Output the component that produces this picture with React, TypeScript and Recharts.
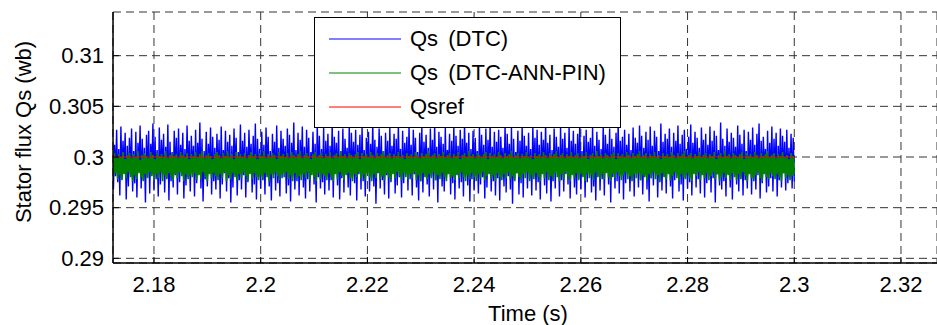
import React from 'react';
import { LineChart, Line, XAxis, YAxis, CartesianGrid, Legend } from 'recharts';

const FONT = '"Liberation Sans", Arial, Helvetica, sans-serif';

const T_START = 2.1722;
const T_STEP = 0.0002;

const xTicks = [2.18, 2.2, 2.22, 2.24, 2.26, 2.28, 2.3, 2.32];
const yTicks = [0.29, 0.295, 0.3, 0.305, 0.31];
const xDomain = [2.17232, 2.32675];
const yDomain = [0.28954, 0.31431];

const seriesNames = ['Qs (DTC)', 'Qs (DTC-ANN-PIN)', 'Qsref'];
const seriesColors = ['#0000ff', '#008000', '#ff0000'];

const QSREF = 0.3;

const qsDTC = [
  0.3021,0.2968,0.3012,0.2981,0.3027,0.2975,0.3008,0.2962,0.3030,0.2979,0.3016,0.2986,0.3024,0.2958,0.3011,0.2971,0.3019,0.2983,0.3028,0.2966,
  0.3006,0.2974,0.3025,0.2960,0.3014,0.2987,0.3031,0.2969,0.3018,0.2977,0.3009,0.2955,0.3022,0.2980,0.3026,0.2964,0.3013,0.2988,0.3033,0.2967,
  0.3020,0.2978,0.3007,0.2961,0.3029,0.2973,0.3017,0.2984,0.3023,0.2965,0.3010,0.2979,0.3032,0.2957,0.3015,0.2976,0.3005,0.2970,0.3026,0.2982,
  0.3019,0.2963,0.3028,0.2975,0.3012,0.2986,0.3024,0.2959,0.3008,0.2972,0.3031,0.2980,0.3016,0.2966,0.3021,0.2985,0.3011,0.2961,0.3027,0.2974,
  0.3014,0.2983,0.3034,0.2969,0.3018,0.2956,0.3006,0.2978,0.3025,0.2971,0.3013,0.2987,0.3029,0.2963,0.3020,0.2976,0.3009,0.2968,0.3023,0.2981,
  0.3017,0.2959,0.3030,0.2973,0.3007,0.2984,0.3026,0.2966,0.3015,0.2979,0.3022,0.2955,0.3011,0.2970,0.3028,0.2986,0.3019,0.2962,0.3005,0.2977,
  0.3032,0.2968,0.3016,0.2982,0.3024,0.2960,0.3010,0.2975,0.3027,0.2988,0.3013,0.2965,0.3021,0.2973,0.3033,0.2958,0.3018,0.2980,0.3008,0.2969,
  0.3025,0.2977,0.3012,0.2963,0.3029,0.2985,0.3020,0.2971,0.3006,0.2957,0.3023,0.2983,0.3015,0.2967,0.3031,0.2974,0.3009,0.2961,0.3026,0.2979,
  0.3018,0.2986,0.3011,0.2964,0.3028,0.2972,0.3022,0.2956,0.3014,0.2981,0.3034,0.2968,0.3007,0.2976,0.3024,0.2962,0.3017,0.2984,0.3030,0.2970,
  0.3010,0.2959,0.3027,0.2978,0.3019,0.2966,0.3005,0.2987,0.3025,0.2973,0.3013,0.2955,0.3032,0.2980,0.3021,0.2969,0.3008,0.2975,0.3029,0.2963,
  0.3016,0.2982,0.3023,0.2967,0.3011,0.2977,0.3033,0.2960,0.3020,0.2985,0.3014,0.2972,0.3026,0.2958,0.3006,0.2979,0.3028,0.2965,0.3018,0.2988,
  0.3009,0.2970,0.3031,0.2962,0.3024,0.2981,0.3015,0.2974,0.3027,0.2957,0.3012,0.2983,0.3022,0.2968,0.3030,0.2976,0.3007,0.2961,0.3019,0.2986,
  0.3025,0.2966,0.3013,0.2979,0.3034,0.2971,0.3017,0.2954,0.3010,0.2984,0.3028,0.2969,0.3021,0.2977,0.3006,0.2963,0.3024,0.2982,0.3016,0.2959,
  0.3029,0.2975,0.3011,0.2987,0.3023,0.2964,0.3018,0.2972,0.3032,0.2980,0.3008,0.2960,0.3026,0.2974,0.3014,0.2985,0.3020,0.2967,0.3031,0.2978,
  0.3012,0.2962,0.3027,0.2983,0.3019,0.2970,0.3005,0.2957,0.3024,0.2976,0.3030,0.2965,0.3015,0.2986,0.3022,0.2973,0.3009,0.2961,0.3028,0.2981,
  0.3017,0.2968,0.3033,0.2977,0.3010,0.2955,0.3025,0.2984,0.3020,0.2971,0.3013,0.2966,0.3029,0.2979,0.3007,0.2988,0.3023,0.2963,0.3016,0.2974,
  0.3031,0.2958,0.3021,0.2982,0.3011,0.2969,0.3027,0.2975,0.3018,0.2961,0.3034,0.2985,0.3014,0.2972,0.3024,0.2956,0.3008,0.2978,0.3026,0.2967,
  0.3019,0.2986,0.3006,0.2964,0.3030,0.2973,0.3022,0.2980,0.3012,0.2959,0.3028,0.2970,0.3017,0.2983,0.3033,0.2966,0.3010,0.2976,0.3025,0.2962,
  0.3015,0.2979,0.3027,0.2957,0.3020,0.2987,0.3009,0.2971,0.3032,0.2965,0.3023,0.2981,0.3013,0.2968,0.3029,0.2954,0.3018,0.2977,0.3005,0.2984,
  0.3026,0.2963,0.3016,0.2974,0.3031,0.2960,0.3021,0.2986,0.3011,0.2969,0.3024,0.2978,0.3008,0.2962,0.3030,0.2982,0.3019,0.2967,0.3027,0.2975,
  0.3012,0.2958,0.3025,0.2985,0.3017,0.2972,0.3034,0.2964,0.3014,0.2980,0.3022,0.2956,0.3007,0.2976,0.3028,0.2969,0.3020,0.2987,0.3010,0.2961,
  0.3029,0.2977,0.3018,0.2966,0.3024,0.2983,0.3009,0.2973,0.3031,0.2959,0.3016,0.2984,0.3026,0.2970,0.3013,0.2963,0.3023,0.2979,0.3033,0.2968,
  0.3006,0.2982,0.3021,0.2960,0.3027,0.2975,0.3015,0.2988,0.3019,0.2965,0.3030,0.2971,0.3011,0.2957,0.3025,0.2981,0.3017,0.2967,0.3008,0.2978,
  0.3032,0.2962,0.3022,0.2986,0.3013,0.2973,0.3028,0.2955,0.3018,0.2980,0.3010,0.2969,0.3024,0.2976,0.3034,0.2964,0.3016,0.2983,0.3020,0.2958,
  0.3027,0.2974,0.3012,0.2985,0.3023,0.2966,0.3007,0.2978,0.3029,0.2961,0.3019,0.2987,0.3014,0.2970,0.3031,0.2977,0.3021,0.2963,0.3009,0.2982,
  0.3025,0.2968,0.3017,0.2956,0.3030,0.2979,0.3011,0.2972,0.3026,0.2984,0.3020,0.2960,0.3006,0.2975,0.3033,0.2967,0.3015,0.2981,0.3023,0.2964,
  0.3018,0.2986,0.3028,0.2971,0.3010,0.2959,0.3024,0.2977,0.3016,0.2983,0.3031,0.2966,0.3013,0.2973,0.3022,0.2957,0.3027,0.2980,0.3008,0.2969,
  0.3020,0.2975,0.3032,0.2962,0.3014,0.2985,0.3025,0.2970,0.3019,0.2978,0.3009,0.2964,0.3029,0.2987,0.3017,0.2960,0.3023,0.2974,0.3012,0.2981,
  0.3030,0.2965,0.3016,0.2979,0.3026,0.2955,0.3021,0.2983,0.3007,0.2972,0.3034,0.2968,0.3018,0.2976,0.3011,0.2961,0.3028,0.2984,0.3015,0.2970,
  0.3024,0.2958,0.3019,0.2986,0.3010,0.2973,0.3031,0.2966,0.3022,0.2980,0.3013,0.2962,0.3027,0.2977,0.3006,0.2969,0.3025,0.2985,0.3017,0.2963,
  0.3029,0.2976,0.3012,0.2968,0.3023,0.2982,0.3033,0.2959,0.3016,0.2974,0.3020,0.2987,0.3008,0.2965,0.3026,0.2971,0.3014,0.2979,0.3030,0.2966,
  0.3018,0.2983,0.3024,0.2961,0.3011,0.2977,0.3028,0.2970,0.3021,0.2984,0.3015,0.2967,0.3027,0.2974,0.3009,0.2980,0.3023,0.2969,0.3019,0.2976,
];

const qsANN = [
  0.3001,0.2981,0.3004,0.2984,0.2999,0.2978,0.3003,0.2982,0.3000,0.2977,0.3005,0.2983,0.2998,0.2979,0.3002,0.2985,0.3004,0.2980,0.2999,0.2976,
  0.3003,0.2982,0.3000,0.2978,0.3006,0.2984,0.2997,0.2980,0.3002,0.2976,0.3004,0.2983,0.3001,0.2979,0.2999,0.2985,0.3005,0.2981,0.3002,0.2977,
  0.2998,0.2983,0.3004,0.2979,0.3001,0.2985,0.3003,0.2976,0.3000,0.2982,0.3006,0.2978,0.2999,0.2984,0.3002,0.2980,0.3004,0.2977,0.3001,0.2983,
  0.3003,0.2979,0.2999,0.2985,0.3005,0.2981,0.3002,0.2976,0.3000,0.2983,0.3004,0.2978,0.2998,0.2982,0.3003,0.2980,0.3001,0.2984,0.3005,0.2977,
  0.3000,0.2982,0.3003,0.2978,0.3006,0.2985,0.2999,0.2980,0.3002,0.2976,0.3004,0.2983,0.3001,0.2979,0.2998,0.2984,0.3003,0.2981,0.3005,0.2977,
  0.3002,0.2983,0.2999,0.2979,0.3004,0.2985,0.3001,0.2976,0.3006,0.2982,0.3000,0.2978,0.3003,0.2984,0.2998,0.2980,0.3005,0.2977,0.3001,0.2983,
  0.3003,0.2979,0.3000,0.2985,0.3004,0.2981,0.2999,0.2976,0.3002,0.2983,0.3005,0.2978,0.3001,0.2984,0.3003,0.2980,0.2998,0.2977,0.3004,0.2982,
  0.3001,0.2978,0.3006,0.2984,0.2999,0.2980,0.3003,0.2976,0.3000,0.2983,0.3004,0.2979,0.3002,0.2985,0.2998,0.2981,0.3005,0.2977,0.3001,0.2983,
  0.3003,0.2980,0.3000,0.2985,0.3004,0.2978,0.2999,0.2982,0.3005,0.2976,0.3002,0.2984,0.3000,0.2979,0.3003,0.2981,0.3006,0.2977,0.2999,0.2983,
  0.3002,0.2979,0.3004,0.2985,0.3001,0.2977,0.2998,0.2982,0.3003,0.2980,0.3005,0.2976,0.3000,0.2984,0.3002,0.2978,0.3004,0.2983,0.2999,0.2981,
  0.3003,0.2977,0.3001,0.2984,0.3005,0.2980,0.2999,0.2976,0.3002,0.2983,0.3004,0.2978,0.3000,0.2985,0.3006,0.2981,0.3001,0.2977,0.3003,0.2982,
  0.2999,0.2984,0.3004,0.2979,0.3002,0.2976,0.3000,0.2983,0.3003,0.2980,0.3005,0.2985,0.2998,0.2978,0.3004,0.2982,0.3001,0.2977,0.3003,0.2984,
  0.3000,0.2980,0.3005,0.2976,0.3002,0.2983,0.2999,0.2979,0.3004,0.2985,0.3001,0.2978,0.3003,0.2981,0.3006,0.2977,0.3000,0.2984,0.3002,0.2980,
  0.3004,0.2976,0.2999,0.2983,0.3003,0.2979,0.3001,0.2985,0.3005,0.2981,0.3000,0.2977,0.3002,0.2984,0.2998,0.2980,0.3004,0.2978,0.3001,0.2983,
  0.3003,0.2979,0.3000,0.2985,0.3005,0.2977,0.3002,0.2982,0.2999,0.2976,0.3004,0.2984,0.3001,0.2980,0.3003,0.2978,0.3006,0.2983,0.3000,0.2979,
  0.3002,0.2985,0.3004,0.2977,0.2999,0.2982,0.3003,0.2978,0.3001,0.2984,0.3005,0.2980,0.3000,0.2976,0.3002,0.2983,0.3004,0.2979,0.2999,0.2981,
  0.3003,0.2977,0.3001,0.2983,0.3005,0.2979,0.2998,0.2985,0.3002,0.2980,0.3004,0.2976,0.3000,0.2982,0.3006,0.2978,0.3001,0.2984,0.3003,0.2980,
  0.2999,0.2976,0.3004,0.2983,0.3002,0.2979,0.3000,0.2985,0.3003,0.2977,0.3005,0.2981,0.2998,0.2984,0.3004,0.2978,0.3001,0.2982,0.3003,0.2976,
  0.3000,0.2984,0.3005,0.2980,0.3002,0.2977,0.2999,0.2983,0.3004,0.2979,0.3001,0.2985,0.3003,0.2978,0.3006,0.2981,0.3000,0.2976,0.3002,0.2984,
  0.3004,0.2980,0.2999,0.2977,0.3003,0.2983,0.3001,0.2979,0.3005,0.2985,0.3000,0.2976,0.3002,0.2982,0.2998,0.2978,0.3004,0.2984,0.3001,0.2980,
  0.3003,0.2976,0.3000,0.2983,0.3005,0.2979,0.3002,0.2985,0.2999,0.2977,0.3004,0.2981,0.3001,0.2978,0.3003,0.2984,0.3006,0.2980,0.3000,0.2976,
  0.3002,0.2983,0.3004,0.2978,0.2999,0.2985,0.3003,0.2980,0.3001,0.2976,0.3005,0.2982,0.3000,0.2979,0.3002,0.2984,0.3004,0.2977,0.2999,0.2983,
  0.3003,0.2980,0.3001,0.2976,0.3005,0.2984,0.2998,0.2979,0.3002,0.2982,0.3004,0.2977,0.3000,0.2985,0.3006,0.2980,0.3001,0.2978,0.3003,0.2983,
  0.2999,0.2978,0.3004,0.2984,0.3002,0.2980,0.3000,0.2976,0.3003,0.2983,0.3005,0.2979,0.2998,0.2985,0.3004,0.2981,0.3001,0.2977,0.3003,0.2982,
  0.3000,0.2985,0.3005,0.2978,0.3002,0.2981,0.2999,0.2976,0.3004,0.2983,0.3001,0.2979,0.3003,0.2984,0.3006,0.2977,0.3000,0.2982,0.3002,0.2980,
  0.3004,0.2977,0.2999,0.2983,0.3003,0.2979,0.3001,0.2985,0.3005,0.2978,0.3000,0.2982,0.3002,0.2976,0.2998,0.2984,0.3004,0.2980,0.3001,0.2978,
  0.3003,0.2983,0.3000,0.2977,0.3005,0.2981,0.3002,0.2985,0.2999,0.2979,0.3004,0.2976,0.3001,0.2983,0.3003,0.2980,0.3006,0.2978,0.3000,0.2984,
  0.3002,0.2979,0.3004,0.2976,0.2999,0.2983,0.3003,0.2981,0.3001,0.2985,0.3005,0.2977,0.3000,0.2982,0.3002,0.2979,0.3004,0.2984,0.2999,0.2977,
  0.3003,0.2981,0.3001,0.2985,0.3005,0.2978,0.2998,0.2983,0.3002,0.2976,0.3004,0.2980,0.3000,0.2984,0.3006,0.2979,0.3001,0.2982,0.3003,0.2977,
  0.2999,0.2984,0.3004,0.2980,0.3002,0.2977,0.3000,0.2983,0.3003,0.2978,0.3005,0.2985,0.2998,0.2981,0.3004,0.2976,0.3001,0.2983,0.3003,0.2979,
  0.3000,0.2977,0.3005,0.2982,0.3002,0.2985,0.2999,0.2979,0.3004,0.2976,0.3001,0.2983,0.3003,0.2980,0.3006,0.2978,0.3000,0.2984,0.3002,0.2981,
  0.3004,0.2978,0.2999,0.2983,0.3003,0.2980,0.3001,0.2976,0.3005,0.2984,0.3000,0.2979,0.3002,0.2982,0.2998,0.2977,0.3004,0.2981,0.3001,0.2983,
];

const data = qsDTC.map((v, i) => ({
  t: +(T_START + i * T_STEP).toFixed(4),
  dtc: v,
  ann: qsANN[i],
  ref: QSREF,
}));

const renderLegend = () => (
  <div
    style={{
      width: 307,
      height: 111,
      boxSizing: 'border-box',
      border: '1.5px solid #000',
      background: '#fff',
      position: 'relative',
      fontFamily: FONT,
      fontSize: 22,
      color: '#000',
    }}
  >
    {seriesNames.map((name, i) => (
      <div
        key={name}
        style={{
          position: 'absolute',
          left: 0,
          top: 4 + i * 34,
          height: 34,
          display: 'flex',
          alignItems: 'center',
        }}
      >
        <svg width={86} height={4} style={{ display: 'block' }}>
          <line x1={14} x2={86} y1={2} y2={2} stroke={seriesColors[i]} strokeWidth={1.2} />
        </svg>
        <span style={{ marginLeft: 9, whiteSpace: 'pre', wordSpacing: 4, lineHeight: '34px' }}>{name}</span>
      </div>
    ))}
  </div>
);

const yLabel = () => (
  <text
    x={31}
    y={132}
    transform="rotate(-90, 31, 132)"
    textAnchor="middle"
    fontFamily={FONT}
    fontSize={22}
    fill="#000"
  >
    Stator flux Qs (wb)
  </text>
);

const xLabel = () => (
  <text x={528} y={321} textAnchor="middle" fontFamily={FONT} fontSize={22} fill="#000">
    Time (s)
  </text>
);

export default function App() {
  return (
    <div style={{ position: 'fixed', left: 0, top: 0, width: 937, height: 325, background: '#fff' }}>
      <LineChart width={937} height={325} data={data} margin={{ top: 12, right: 0, bottom: 0, left: 13 }}>
        <CartesianGrid stroke="#333" strokeDasharray="8 5" strokeWidth={1} />
        <XAxis
          dataKey="t"
          type="number"
          domain={xDomain}
          ticks={xTicks}
          allowDataOverflow
          height={62}
          tickSize={-6}
          tickMargin={19}
          axisLine={{ stroke: '#000', strokeWidth: 1.5 }}
          tickLine={{ stroke: '#000', strokeWidth: 1 }}
          tick={{ fill: '#000', fontSize: 22, fontFamily: FONT }}
          interval={0}
          label={{ content: xLabel }}
        />
        <XAxis
          xAxisId="top"
          orientation="top"
          dataKey="t"
          type="number"
          domain={xDomain}
          ticks={xTicks}
          allowDataOverflow
          height={0}
          tickSize={-6}
          tick={false}
          axisLine={{ stroke: '#000', strokeWidth: 1.5 }}
          tickLine={{ stroke: '#000', strokeWidth: 1 }}
          interval={0}
        />
        <YAxis
          type="number"
          domain={yDomain}
          ticks={yTicks}
          allowDataOverflow
          width={100}
          tickSize={-6}
          tickMargin={15}
          axisLine={{ stroke: '#000', strokeWidth: 1.5 }}
          tickLine={{ stroke: '#000', strokeWidth: 1 }}
          tick={{ fill: '#000', fontSize: 22, fontFamily: FONT }}
          interval={0}
          label={{ content: yLabel }}
        />
        <Legend
          layout="vertical"
          align="center"
          verticalAlign="middle"
          content={renderLegend}
          wrapperStyle={{ position: 'absolute', left: 314, top: 17, width: 307, height: 111 }}
        />
        <Line dataKey="dtc" name={seriesNames[0]} stroke={seriesColors[0]} strokeWidth={1.4} dot={false} isAnimationActive={false} />
        <Line dataKey="ann" name={seriesNames[1]} stroke={seriesColors[1]} strokeWidth={1.7} dot={false} isAnimationActive={false} />
        <Line dataKey="ref" name={seriesNames[2]} stroke={seriesColors[2]} strokeWidth={1} dot={false} isAnimationActive={false} />
      </LineChart>
    </div>
  );
}
